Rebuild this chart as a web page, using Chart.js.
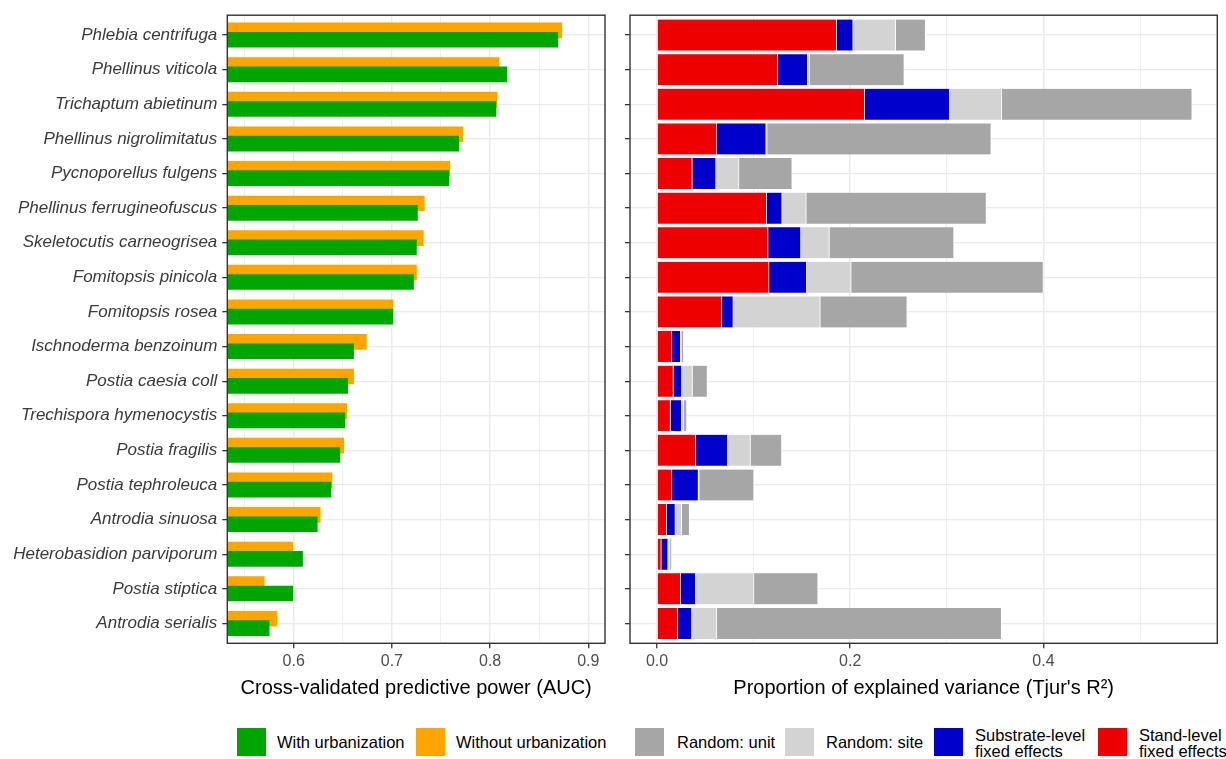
<!DOCTYPE html>
<html>
<head>
<meta charset="utf-8">
<script src="https://cdn.jsdelivr.net/npm/chart.js@4.4.1/dist/chart.umd.min.js"></script>
<style>
  body { margin: 0; background: #fff; width: 1226px; height: 759px; overflow: hidden; position: relative; font-family: "Liberation Sans", Arial, sans-serif; }
  canvas { position: absolute; top: 0; }
  #aucChart { left: 0; }
  #varChart { left: 615px; }
  .key { position: absolute; top: 728px; width: 29px; height: 28px; }
  .lab { position: absolute; font-size: 16.5px; color: #000; white-space: nowrap; }
  .one { top: 733px; line-height: 19px; }
  .two { top: 727px; line-height: 16px; }
</style>
</head>
<body>
<canvas id="aucChart" width="615" height="700"></canvas>
<canvas id="varChart" width="611" height="700"></canvas>

<div class="key" style="left:237px;background:#00A600"></div>
<div class="lab one" style="left:277px">With urbanization</div>
<div class="key" style="left:416px;background:#FFA500"></div>
<div class="lab one" style="left:456px">Without urbanization</div>
<div class="key" style="left:635px;background:#A6A6A6"></div>
<div class="lab one" style="left:677px">Random: unit</div>
<div class="key" style="left:785px;background:#D3D3D3"></div>
<div class="lab one" style="left:826px">Random: site</div>
<div class="key" style="left:934px;background:#0000CD"></div>
<div class="lab two" style="left:975px">Substrate-level<br>fixed effects</div>
<div class="key" style="left:1098px;background:#EE0000"></div>
<div class="lab two" style="left:1139px">Stand-level<br>fixed effects</div>

<script>
// species, top to bottom
const species = [
  'Phlebia centrifuga', 'Phellinus viticola', 'Trichaptum abietinum',
  'Phellinus nigrolimitatus', 'Pycnoporellus fulgens', 'Phellinus ferrugineofuscus',
  'Skeletocutis carneogrisea', 'Fomitopsis pinicola', 'Fomitopsis rosea',
  'Ischnoderma benzoinum', 'Postia caesia coll', 'Trechispora hymenocystis',
  'Postia fragilis', 'Postia tephroleuca', 'Antrodia sinuosa',
  'Heterobasidion parviporum', 'Postia stiptica', 'Antrodia serialis'
];

// cross-validated AUC
const aucWith = [0.869, 0.817, 0.806, 0.768, 0.758, 0.726, 0.725, 0.722, 0.701,
                 0.661, 0.655, 0.652, 0.647, 0.638, 0.624, 0.609, 0.599, 0.575];
const aucWithout = [0.873, 0.809, 0.807, 0.772, 0.759, 0.733, 0.732, 0.725, 0.701,
                    0.674, 0.661, 0.654, 0.651, 0.639, 0.627, 0.599, 0.570, 0.583];

// variance partitioning (Tjur's R2)
const standFixed = [0.186, 0.125, 0.215, 0.062, 0.0365, 0.1135, 0.115, 0.116, 0.067,
                    0.0155, 0.017, 0.014, 0.040, 0.0155, 0.010, 0.0044, 0.0246, 0.0214];
const substrateFixed = [0.017, 0.031, 0.088, 0.051, 0.0246, 0.016, 0.034, 0.039, 0.012,
                        0.009, 0.0087, 0.0115, 0.0333, 0.0274, 0.009, 0.0071, 0.0155, 0.0147];
const randomSite = [0.044, 0.002, 0.054, 0.001, 0.0238, 0.025, 0.0294, 0.046, 0.090,
                    0.0012, 0.011, 0.0024, 0.0234, 0.0008, 0.0064, 0.002, 0.0603, 0.0258];
const randomUnit = [0.031, 0.098, 0.197, 0.232, 0.055, 0.1865, 0.129, 0.199, 0.090,
                    0.002, 0.0155, 0.003, 0.0325, 0.0567, 0.0083, 0.0016, 0.0663, 0.2948];

const aucTicks = [0.6, 0.7, 0.8, 0.9];
const varTicks = [0.0, 0.2, 0.4];

Chart.defaults.font.family = '"Liberation Sans", Arial, sans-serif';
Chart.defaults.animation = false;

const GRID = '#EBEBEB';
const INK = '#333333';
const DODGE = 0.135; // half distance between the two AUC bars of a row
const EXPAND = 0.575;

const isMajor = (v, list) => list.some(t => Math.abs(t - v) < 1e-6);

// full panel border like theme_bw
const panelBorder = {
  id: 'panelBorder',
  afterDraw(chart) {
    const a = chart.chartArea, ctx = chart.ctx;
    ctx.save();
    ctx.strokeStyle = INK;
    ctx.lineWidth = 1.4;
    ctx.strokeRect(a.left, a.top, a.right - a.left, a.bottom - a.top);
    ctx.restore();
  }
};

const rowAxis = (labelWidth, showLabels) => ({
  type: 'linear',
  reverse: true,
  min: -EXPAND,
  max: species.length - 1 + EXPAND,
  offset: false,
  afterFit: s => { s.width = labelWidth; },
  border: { display: false },
  grid: { offset: false, color: GRID, lineWidth: 1.3, tickColor: INK, tickWidth: 1.3, tickLength: 5 },
  ticks: {
    stepSize: 1,
    includeBounds: false,
    autoSkip: false,
    padding: 5,
    color: '#3a3a3a',
    font: { size: 17, style: 'italic' },
    callback: v => (showLabels && Number.isInteger(v)) ? species[v] : ''
  }
});

// left panel: AUC with and without urbanization
new Chart(document.getElementById('aucChart'), {
  type: 'bar',
  data: {
    datasets: [
      {
        label: 'With urbanization',
        data: aucWith.map((v, i) => ({ x: v, y: i + DODGE })),
        backgroundColor: '#00A600',
        grouped: false,
        barThickness: 15
      },
      {
        label: 'Without urbanization',
        data: aucWithout.map((v, i) => ({ x: v, y: i - DODGE })),
        backgroundColor: '#FFA500',
        grouped: false,
        barThickness: 15
      }
    ]
  },
  options: {
    indexAxis: 'y',
    responsive: false,
    layout: { padding: { top: 11.7, right: 10, bottom: 0, left: 0 } },
    plugins: { legend: { display: false }, tooltip: { enabled: false } },
    scales: {
      x: {
        type: 'linear',
        min: 0.5324,
        max: 0.917,
        afterFit: s => { s.height = 56.7; },
        border: { display: false },
        grid: {
          color: GRID,
          lineWidth: c => isMajor(c.tick.value, aucTicks) ? 1.5 : 0.8,
          tickColor: c => isMajor(c.tick.value, aucTicks) ? INK : 'rgba(0,0,0,0)',
          tickWidth: 1.3,
          tickLength: 5
        },
        ticks: {
          stepSize: 0.05,
          includeBounds: false,
          autoSkip: false,
          maxRotation: 0,
          padding: 4,
          color: '#4D4D4D',
          font: { size: 16 },
          callback: v => isMajor(v, aucTicks) ? v.toFixed(1) : ''
        },
        title: {
          display: true,
          text: 'Cross-validated predictive power (AUC)',
          color: '#000',
          font: { size: 20 },
          padding: { top: 0, bottom: 0 }
        }
      },
      y: rowAxis(227.3, true)
    }
  },
  plugins: [panelBorder]
});

// right panel: variance partitioning, stacked from the stand-level part
const part = (label, values, color) => ({
  label: label,
  data: values.map((v, i) => ({ x: v, y: i })),
  backgroundColor: color,
  borderColor: 'rgba(255,255,255,0.8)',
  borderWidth: { right: 1 },
  borderSkipped: false,
  barThickness: 31
});

new Chart(document.getElementById('varChart'), {
  type: 'bar',
  data: {
    datasets: [
      part('Stand-level fixed effects', standFixed, '#EE0000'),
      part('Substrate-level fixed effects', substrateFixed, '#0000CD'),
      part('Random: site', randomSite, '#D3D3D3'),
      part('Random: unit', randomUnit, '#A6A6A6')
    ]
  },
  options: {
    indexAxis: 'y',
    responsive: false,
    layout: { padding: { top: 11.7, right: 8.7, bottom: 0, left: 0 } },
    plugins: { legend: { display: false }, tooltip: { enabled: false } },
    scales: {
      x: {
        type: 'linear',
        stacked: true,
        min: -0.028,
        max: 0.58,
        afterFit: s => { s.height = 56.7; },
        border: { display: false },
        grid: {
          color: GRID,
          lineWidth: c => isMajor(c.tick.value, varTicks) ? 1.5 : 0.8,
          tickColor: c => isMajor(c.tick.value, varTicks) ? INK : 'rgba(0,0,0,0)',
          tickWidth: 1.3,
          tickLength: 5
        },
        ticks: {
          stepSize: 0.1,
          includeBounds: false,
          autoSkip: false,
          maxRotation: 0,
          padding: 4,
          color: '#4D4D4D',
          font: { size: 16 },
          callback: v => isMajor(v, varTicks) ? v.toFixed(1) : ''
        },
        title: {
          display: true,
          text: "Proportion of explained variance (Tjur's R²)",
          color: '#000',
          font: { size: 20 },
          padding: { top: 0, bottom: 0 }
        }
      },
      y: Object.assign(rowAxis(15, false), { stacked: true })
    }
  },
  plugins: [panelBorder]
});
</script>
</body>
</html>
